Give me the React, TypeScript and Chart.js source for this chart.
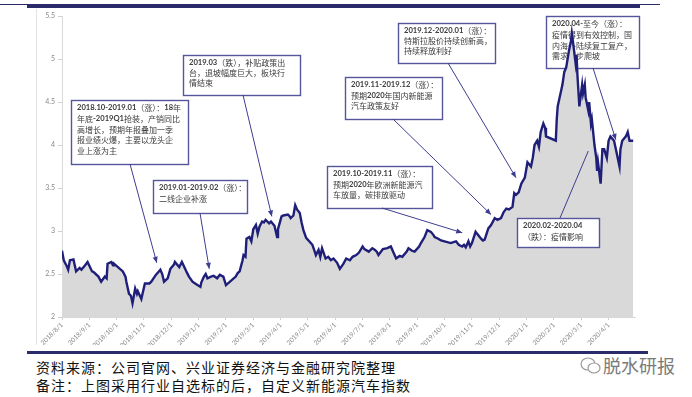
import React, { useEffect, useRef } from "react";
import { Chart, registerables } from "chart.js";

Chart.register(...registerables);

// ---------------- data ----------------
const dates: string[] = [
  "2018-08-01","2018-08-03","2018-08-06","2018-08-08","2018-08-10","2018-08-14","2018-08-17","2018-08-21","2018-08-23","2018-08-27","2018-08-30",
  "2018-09-04","2018-09-06","2018-09-11","2018-09-14","2018-09-18","2018-09-20","2018-09-21","2018-09-25","2018-09-27","2018-09-28",
  "2018-10-08","2018-10-11","2018-10-12","2018-10-15","2018-10-17","2018-10-18","2018-10-19","2018-10-22","2018-10-24","2018-10-25","2018-10-29","2018-10-31",
  "2018-11-02","2018-11-07","2018-11-09","2018-11-14","2018-11-19","2018-11-21","2018-11-23","2018-11-27","2018-11-30",
  "2018-12-04","2018-12-05","2018-12-10","2018-12-13","2018-12-14","2018-12-19","2018-12-21","2018-12-25","2018-12-28",
  "2019-01-03","2019-01-04","2019-01-07","2019-01-09","2019-01-11","2019-01-15","2019-01-18","2019-01-22","2019-01-25","2019-01-29",
  "2019-02-01","2019-02-11","2019-02-13","2019-02-15","2019-02-18","2019-02-19","2019-02-21","2019-02-22","2019-02-25","2019-02-27",
  "2019-03-01","2019-03-04","2019-03-06","2019-03-08","2019-03-11","2019-03-13","2019-03-15","2019-03-19","2019-03-21","2019-03-25","2019-03-28","2019-03-29",
  "2019-04-02","2019-04-04","2019-04-09","2019-04-11","2019-04-12","2019-04-15","2019-04-17","2019-04-19","2019-04-22","2019-04-24","2019-04-26","2019-04-29",
  "2019-05-06","2019-05-08","2019-05-10","2019-05-13","2019-05-15","2019-05-17","2019-05-21","2019-05-24","2019-05-27","2019-05-30",
  "2019-06-03","2019-06-06","2019-06-10","2019-06-13","2019-06-17","2019-06-20","2019-06-24","2019-06-27",
  "2019-07-01","2019-07-03","2019-07-08","2019-07-12","2019-07-15","2019-07-17","2019-07-19","2019-07-24","2019-07-29",
  "2019-08-02","2019-08-05","2019-08-08","2019-08-12","2019-08-15","2019-08-20","2019-08-22","2019-08-26","2019-08-29",
  "2019-09-03","2019-09-05","2019-09-09","2019-09-12","2019-09-16","2019-09-19","2019-09-20","2019-09-24","2019-09-27",
  "2019-10-08","2019-10-11","2019-10-14","2019-10-17","2019-10-21","2019-10-23","2019-10-25","2019-10-28","2019-10-30",
  "2019-11-01","2019-11-05","2019-11-08","2019-11-11","2019-11-13","2019-11-15","2019-11-19","2019-11-22","2019-11-26","2019-11-29",
  "2019-12-03","2019-12-06","2019-12-09","2019-12-12","2019-12-16","2019-12-18","2019-12-20","2019-12-23","2019-12-26","2019-12-30",
  "2020-01-02","2020-01-06","2020-01-08","2020-01-10","2020-01-13","2020-01-15","2020-01-17","2020-01-20","2020-01-22","2020-01-23",
  "2020-02-03","2020-02-04","2020-02-05","2020-02-07","2020-02-10","2020-02-12","2020-02-14","2020-02-17","2020-02-19","2020-02-20","2020-02-21","2020-02-24","2020-02-25","2020-02-26","2020-02-28",
  "2020-03-02","2020-03-03","2020-03-05","2020-03-06","2020-03-09","2020-03-10","2020-03-12","2020-03-13","2020-03-16","2020-03-18","2020-03-19","2020-03-20","2020-03-23","2020-03-24","2020-03-25","2020-03-27","2020-03-30","2020-03-31",
  "2020-04-01","2020-04-03","2020-04-07","2020-04-09","2020-04-13","2020-04-14","2020-04-16","2020-04-20","2020-04-22","2020-04-24","2020-04-28",
];

const indexValues: number[] = [
  2.77,2.66,2.60,2.55,2.66,2.67,2.53,2.57,2.55,2.60,2.64,
  2.53,2.52,2.47,2.41,2.47,2.45,2.62,2.64,2.60,2.62,
  2.53,2.47,2.41,2.27,2.25,2.21,2.16,2.33,2.27,2.30,2.21,2.30,
  2.39,2.39,2.41,2.49,2.55,2.50,2.41,2.45,2.56,
  2.61,2.64,2.58,2.64,2.62,2.51,2.47,2.41,2.39,
  2.35,2.40,2.47,2.50,2.45,2.47,2.48,2.45,2.49,2.47,
  2.37,2.47,2.51,2.53,2.66,2.72,2.70,2.91,2.93,2.88,
  3.02,3.07,2.97,3.05,3.11,3.10,3.13,3.09,3.11,3.06,2.93,3.02,
  3.17,3.18,3.19,3.17,3.15,3.18,3.30,3.25,3.21,3.10,3.01,2.92,
  2.84,2.78,2.72,2.78,2.70,2.80,2.68,2.70,2.66,2.68,
  2.63,2.56,2.62,2.68,2.66,2.70,2.72,2.75,
  2.82,2.79,2.76,2.80,2.78,2.76,2.72,2.79,2.80,
  2.82,2.75,2.68,2.71,2.70,2.76,2.80,2.77,2.76,
  2.82,2.86,2.93,3.01,2.99,2.95,2.93,2.91,2.89,
  2.86,2.87,2.88,2.84,2.82,2.84,2.81,2.88,2.82,
  2.86,2.99,2.95,2.91,2.89,2.90,3.03,3.07,3.15,3.13,
  3.15,3.22,3.26,3.25,3.28,3.44,3.42,3.45,3.55,3.62,
  3.80,3.75,3.85,4.00,4.05,3.98,4.15,4.25,4.20,4.10,
  4.05,4.30,4.45,4.55,4.70,4.85,4.90,5.10,5.20,5.30,5.22,4.95,5.05,4.80,4.45,
  4.70,4.60,4.70,4.55,4.40,4.50,4.25,4.30,4.00,3.85,3.70,3.80,3.55,3.75,3.95,3.95,3.85,3.95,
  4.05,4.10,4.05,3.95,3.75,3.95,4.05,4.10,4.15,4.05,4.05,
];

const xTickLabels: string[] = [
  "2018/8/1","2018/9/1","2018/10/1","2018/11/1","2018/12/1","2019/1/1","2019/2/1","2019/3/1","2019/4/1","2019/5/1","2019/6/1",
  "2019/7/1","2019/8/1","2019/9/1","2019/10/1","2019/11/1","2019/12/1","2020/1/1","2020/2/1","2020/3/1","2020/4/1",
];

const yMin = 2;
const yMax = 5.5;
const yStep = 0.5;
const xEnd = "2020-04-30";

// annotation boxes: text, box rect, arrow start, arrow target (date, value)
type Note = {
  lines: string[];
  box: [number, number, number, number];
  from: [number, number];
  toDate: string;
  toValue: number;
  head: boolean;
  layer: "under" | "over";
  lh: number;
};

const notes: Note[] = [
  {
    lines: ["2018.10-2019.01（涨）：18年", "年底-2019Q1抢装，产销同比", "高增长，预期年报叠加一季", "报业绩火爆，主要以龙头企", "业上涨为主"],
    box: [71, 100, 117, 64], from: [130, 164], toDate: "2018-11-15", toValue: 2.63, head: true, layer: "over", lh: 10.8,
  },
  {
    lines: ["2019.01-2019.02（涨）：", "二线企业补涨"],
    box: [153, 180, 94, 33], from: [200, 213], toDate: "2019-01-13", toValue: 2.56, head: true, layer: "over", lh: 10.5,
  },
  {
    lines: ["2019.03（跌），补贴政策出", "台，退坡幅度巨大，板块行", "情结束"],
    box: [183, 55, 117, 40], from: [243, 95], toDate: "2019-03-22", toValue: 3.17, head: true, layer: "over", lh: 9.8,
  },
  {
    lines: ["2019.10-2019.11（涨）：", "预期2020年欧洲新能源汽", "车放量，碳排放驱动"],
    box: [327, 166, 105, 42], from: [382, 208], toDate: "2019-10-21", toValue: 2.98, head: true, layer: "over", lh: 10.5,
  },
  {
    lines: ["2019.11-2019.12（涨）：", "预期2020年国内新能源", "汽车政策友好"],
    box: [345, 77, 97, 42], from: [393, 119], toDate: "2019-11-22", toValue: 3.19, head: true, layer: "over", lh: 10.5,
  },
  {
    lines: ["2019.12-2020.01（涨）：", "特斯拉股价持续创新高，", "持续释放利好"],
    box: [398, 23, 97, 40], from: [448, 63], toDate: "2019-12-20", toValue: 3.62, head: true, layer: "over", lh: 10,
  },
  {
    lines: ["2020.04-至今（涨）：", "疫情得到有效控制，国", "内海外陆续复工复产，", "需求逐步爬坡"],
    box: [546, 16, 93, 52], from: [593, 68], toDate: "2020-04-09", toValue: 4.06, head: true, layer: "under", lh: 10.8,
  },
  {
    lines: ["2020.02-2020.04", "（跌）：疫情影响"],
    box: [517, 218, 82, 29], from: [560, 218], toDate: "2020-03-09", toValue: 3.93, head: false, layer: "over", lh: 10.5,
  },
];

// ---------------- helpers ----------------
function dateToX(s: string): number {
  const [y, m, d] = s.split("-").map(Number);
  const days = new Date(y, m, 0).getDate();
  return (y - 2018) * 12 + (m - 8) + (d - 1) / days;
}

const CJK_FONT = '"Noto Sans CJK SC", "Noto Sans", sans-serif';
const LAT_FONT = 'Lato, "Open Sans", sans-serif';
const BOX_COLOR = "#55559a";
const ARROW_COLOR = "#3d3d90";

function drawRuns(ctx: CanvasRenderingContext2D, text: string, x: number, y: number) {
  const runs = text.match(/[\x00-\x7F]+|[^\x00-\x7F]+/g) || [];
  let cx = x;
  for (const r of runs) {
    const ascii = /^[\x00-\x7F]/.test(r);
    ctx.font = ascii ? `bold 7.6px ${LAT_FONT}` : `8px ${CJK_FONT}`;
    ctx.fillText(r, cx, y);
    cx += ctx.measureText(r).width;
  }
}

function drawBox(ctx: CanvasRenderingContext2D, n: Note) {
  const [bx, by, bw, bh] = n.box;
  ctx.save();
  ctx.fillStyle = "#ffffff";
  ctx.fillRect(bx, by, bw, bh);
  ctx.strokeStyle = BOX_COLOR;
  ctx.lineWidth = 1.4;
  ctx.strokeRect(bx + 0.5, by + 0.5, bw, bh);
  ctx.fillStyle = "#3a3a3a";
  ctx.textBaseline = "middle";
  ctx.textAlign = "left";
  n.lines.forEach((ln, i) => {
    drawRuns(ctx, ln, bx + 6, by + 8 + i * n.lh);
  });
  ctx.restore();
}

function drawArrow(chart: any, n: Note) {
  const ctx: CanvasRenderingContext2D = chart.ctx;
  const xs = chart.scales.x;
  const ys = chart.scales.y;
  const tx = xs.getPixelForValue(dateToX(n.toDate));
  const ty = ys.getPixelForValue(n.toValue);
  const [fx, fy] = n.from;
  ctx.save();
  ctx.strokeStyle = ARROW_COLOR;
  ctx.fillStyle = ARROW_COLOR;
  ctx.lineWidth = 1;
  ctx.beginPath();
  ctx.moveTo(fx, fy);
  ctx.lineTo(tx, ty);
  ctx.stroke();
  if (n.head) {
    const a = Math.atan2(ty - fy, tx - fx);
    const L = 6, W = 2.6;
    ctx.beginPath();
    ctx.moveTo(tx, ty);
    ctx.lineTo(tx - L * Math.cos(a) + W * Math.sin(a), ty - L * Math.sin(a) - W * Math.cos(a));
    ctx.lineTo(tx - L * Math.cos(a) - W * Math.sin(a), ty - L * Math.sin(a) + W * Math.cos(a));
    ctx.closePath();
    ctx.fill();
  }
  ctx.restore();
}

const notesPlugin = {
  id: "notes",
  beforeDatasetsDraw(chart: any) {
    notes.filter((n) => n.layer === "under").forEach((n) => drawBox(chart.ctx, n));
  },
  afterDatasetsDraw(chart: any) {
    notes.filter((n) => n.layer === "over").forEach((n) => drawBox(chart.ctx, n));
    notes.forEach((n) => drawArrow(chart, n));
  },
};

// ---------------- component ----------------
function NevChart() {
  const ref = useRef<HTMLCanvasElement | null>(null);
  useEffect(() => {
    if (!ref.current) return;
    const points = dates.map((d, i) => ({ x: dateToX(d), y: indexValues[i] }));
    const chart = new Chart(ref.current, {
      type: "line",
      data: {
        datasets: [
          {
            data: points,
            borderColor: "#1f1f7a",
            borderWidth: 2.4,
            backgroundColor: "#d9d9d9",
            fill: "start",
            pointRadius: 0,
            tension: 0,
          },
        ],
      },
      options: {
        animation: false,
        responsive: false,
        maintainAspectRatio: false,
        layout: { padding: { top: 16, right: 57, left: 0, bottom: 0 } },
        plugins: { legend: { display: false }, tooltip: { enabled: false } },
        scales: {
          x: {
            type: "linear",
            min: 0,
            max: dateToX(xEnd),
            afterBuildTicks: (scale: any) => {
              scale.ticks = xTickLabels.map((_, i) => ({ value: i }));
            },
            afterFit: (scale: any) => {
              scale.height = 28;
            },
            ticks: {
              autoSkip: false,
              minRotation: 45,
              maxRotation: 45,
              color: "#8a8a8a",
              font: { size: 6.5, family: "Lato, sans-serif" },
              padding: 1,
              callback: (v: any) => xTickLabels[Math.round(Number(v))] ?? "",
            },
            grid: { drawOnChartArea: false, drawTicks: true, tickLength: 3, color: "#d0d0d0" },
            border: { display: true, color: "#d9d9d9" },
          },
          y: {
            type: "linear",
            min: yMin,
            max: yMax,
            afterBuildTicks: (scale: any) => {
              const t = [];
              for (let v = yMin; v <= yMax + 1e-9; v += yStep) t.push({ value: Math.round(v * 10) / 10 });
              scale.ticks = t;
            },
            afterFit: (scale: any) => {
              scale.width = 62;
            },
            ticks: {
              color: "#8a8a8a",
              font: { size: 7, family: "Lato, sans-serif" },
              padding: 3,
              callback: (v: any) => String(v),
            },
            grid: { drawOnChartArea: false, drawTicks: true, tickLength: 4, color: "#d0d0d0" },
            border: { display: true, color: "#d9d9d9" },
          },
        },
      },
      plugins: [notesPlugin],
    });
    return () => chart.destroy();
  }, []);
  return <canvas ref={ref} width={692} height={345} style={{ position: "absolute", left: 0, top: 0 }} />;
}

export default function App() {
  const footerFont = '"Noto Sans CJK SC", sans-serif';
  return (
    <div style={{ position: "absolute", left: 0, top: 0, width: 692, height: 397, background: "#fff", overflow: "hidden" }}>
      <div style={{ position: "absolute", left: 0, top: 4, width: 660, height: 1, background: "#2b2b6b" }} />
      <div style={{ position: "absolute", left: 27, top: 4, width: 613, height: 4, background: "#2b2b6b" }} />
      <div style={{ position: "absolute", left: 36, top: 9, width: 1, height: 336, background: "#e4e4e4" }} />
      <NevChart />
      <div style={{ position: "absolute", left: 27, top: 351, width: 621, height: 3, background: "#2b2b6b" }} />
      <div style={{ position: "absolute", left: 36, top: 358, fontFamily: footerFont, fontSize: 14, letterSpacing: 1, lineHeight: "18px", color: "#111", whiteSpace: "nowrap" }}>
        资料来源：公司官网、兴业证券经济与金融研究院整理
      </div>
      <div style={{ position: "absolute", left: 36, top: 376, fontFamily: footerFont, fontSize: 14, letterSpacing: 1, lineHeight: "18px", color: "#111", whiteSpace: "nowrap" }}>
        备注：上图采用行业自选标的后，自定义新能源汽车指数
      </div>
      <svg style={{ position: "absolute", left: 580, top: 356 }} width="22" height="20" viewBox="0 0 22 20">
        <ellipse cx="8" cy="8" rx="7" ry="6" fill="none" stroke="#9a9a9a" strokeWidth="1.2" />
        <ellipse cx="14" cy="12" rx="6" ry="5" fill="#fff" stroke="#9a9a9a" strokeWidth="1.2" />
      </svg>
      <div style={{ position: "absolute", left: 603, top: 354, fontFamily: footerFont, fontSize: 18, lineHeight: "22px", color: "#7a7a7a", whiteSpace: "nowrap" }}>
        脱水研报
      </div>
    </div>
  );
}
